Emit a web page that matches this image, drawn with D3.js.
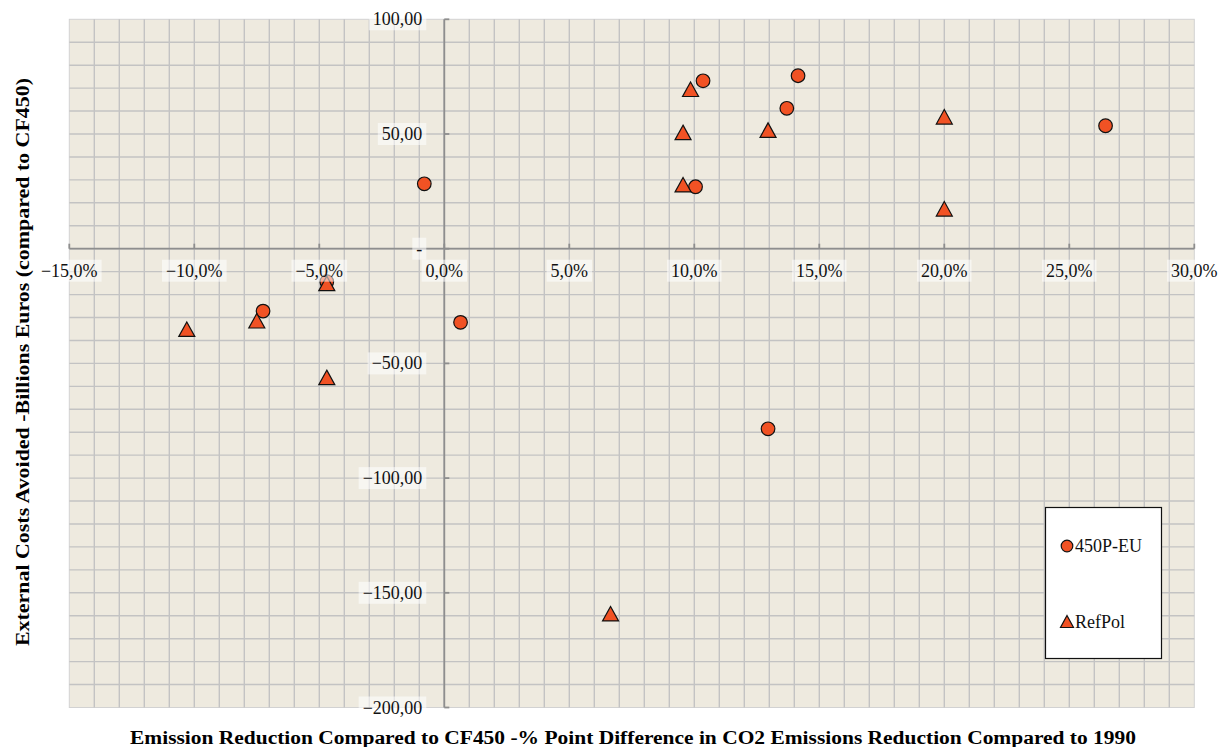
<!DOCTYPE html>
<html>
<head>
<meta charset="utf-8">
<script src="https://cdn.jsdelivr.net/npm/d3@7"></script>
<style>
  body { margin: 0; background: #fff; }
  text { font-family: "Liberation Serif", "Times New Roman", serif; }
</style>
</head>
<body>
<div id="chart"></div>
<script>
// emission reduction (% points) / external costs avoided (bn EUR)
var x450 = [-0.8, 0.65, -7.25, -4.7, 10.35, 14.15, 13.7, 10.05, 26.45, 12.95];
var y450 = [28.3, -32.1, -27.2, -14.4, 73.2, 75.4, 61.2, 27.0, 53.6, -78.5];
var xRef = [-10.3, -7.5, -4.7, -4.7, 9.85, 9.55, 12.95, 9.55, 20.0, 20.0, 6.65];
var yRef = [-35.1, -31.4, -15.1, -56.1, 69.5, 50.7, 51.7, 27.9, 57.5, 17.4, -159.1];

var xTicks = [-15, -10, -5, 0, 5, 10, 15, 20, 25, 30];
var yTicks = [100, 50, 0, -50, -100, -150, -200];
var seriesNames = ["450P-EU", "RefPol"];

var w = 1220, h = 747;
// note: "top" is taken by window.top, so plot edges get their own names
var pL = 69.3, pR = 1194.3, pT = 19.3, pB = 707.5;

var x = d3.scaleLinear().domain([-15, 30]).range([pL, pR]);
var y = d3.scaleLinear().domain([-200, 100]).range([pB, pT]);

var loc = d3.formatLocale({decimal: ",", thousands: ".", grouping: [3], currency: ["", " €"]});
var fmtX = function (d) { return loc.format(".1f")(d) + "%"; };
var fmtY = function (d) { return d === 0 ? "-" : loc.format(".2f")(d); };

var fill = "#F15224";

var svg = d3.select("#chart")
    .append("svg")
    .attr("width", w)
    .attr("height", h);

svg.append("rect")
    .attr("x", pL).attr("y", pT)
    .attr("width", pR - pL).attr("height", pB - pT)
    .attr("fill", "#EEEADF")
    .attr("stroke", "#D2D2D2");

// minor grid: 1% and 10 units
var grid = svg.append("g")
    .attr("stroke", "#C3C3C3")
    .attr("stroke-width", 1.4);

grid.selectAll("line.v")
    .data(d3.range(-14, 30, 1))
    .enter()
    .append("line")
    .attr("x1", function (d) { return x(d); })
    .attr("x2", function (d) { return x(d); })
    .attr("y1", pT).attr("y2", pB);

grid.selectAll("line.h")
    .data(d3.range(-190, 100, 10))
    .enter()
    .append("line")
    .attr("y1", function (d) { return y(d); })
    .attr("y2", function (d) { return y(d); })
    .attr("x1", pL).attr("x2", pR);

// axes through the origin
var axes = svg.append("g")
    .attr("stroke", "#8E8E8E")
    .attr("stroke-width", 1.8);

axes.append("line")
    .attr("x1", pL).attr("x2", pR)
    .attr("y1", y(0)).attr("y2", y(0));
axes.append("line")
    .attr("x1", x(0)).attr("x2", x(0))
    .attr("y1", pT).attr("y2", pB);

axes.selectAll("line.xt")
    .data(xTicks)
    .enter()
    .append("line")
    .attr("x1", function (d) { return x(d); })
    .attr("x2", function (d) { return x(d); })
    .attr("y1", y(0)).attr("y2", y(0) - 5);

axes.selectAll("line.yt")
    .data(yTicks)
    .enter()
    .append("line")
    .attr("y1", function (d) { return y(d); })
    .attr("y2", function (d) { return y(d); })
    .attr("x1", x(0)).attr("x2", x(0) + 5);

function triangle(cx, cy, tw, th) {
    return "M" + cx + "," + (cy - th / 2) +
        "L" + (cx + tw / 2) + "," + (cy + th / 2) +
        "L" + (cx - tw / 2) + "," + (cy + th / 2) + "Z";
}

// markers
svg.append("g")
    .selectAll("circle")
    .data(d3.zip(x450, y450))
    .enter()
    .append("circle")
    .attr("cx", function (d) { return x(d[0]); })
    .attr("cy", function (d) { return y(d[1]); })
    .attr("r", 6.8)
    .attr("fill", fill)
    .attr("stroke", "#111")
    .attr("stroke-width", 1.2);

svg.append("g")
    .selectAll("path")
    .data(d3.zip(xRef, yRef))
    .enter()
    .append("path")
    .attr("d", function (d) { return triangle(x(d[0]), y(d[1]), 16, 14.5); })
    .attr("fill", fill)
    .attr("stroke", "#111")
    .attr("stroke-width", 1.2)
    .attr("stroke-linejoin", "miter");

// tick labels with pale boxes
function boxedLabel(g, tx, ty, txt, anchor) {
    var bg = g.append("rect");
    var t = g.append("text")
        .attr("x", tx).attr("y", ty)
        .attr("text-anchor", anchor)
        .attr("font-size", 18)
        .attr("fill", "#111")
        .text(txt);
    var b = t.node().getBBox();
    bg.attr("x", b.x - 4).attr("y", b.y - 1)
        .attr("width", b.width + 8).attr("height", b.height + 2)
        .attr("fill", "#fff")
        .attr("fill-opacity", 0.55);
}

var labels = svg.append("g");
xTicks.forEach(function (d) {
    boxedLabel(labels.append("g"), x(d), y(0) + 28, fmtX(d), "middle");
});
yTicks.forEach(function (d) {
    boxedLabel(labels.append("g"), x(0) - 22, y(d) + 6, fmtY(d), "end");
});

// legend
var lg = svg.append("g");
lg.append("rect")
    .attr("x", 1045.5).attr("y", 507.5)
    .attr("width", 116).attr("height", 151)
    .attr("fill", "#fff")
    .attr("stroke", "#111")
    .attr("stroke-width", 1.2);
lg.append("circle")
    .attr("cx", 1067).attr("cy", 546)
    .attr("r", 5.8)
    .attr("fill", fill).attr("stroke", "#111").attr("stroke-width", 1.2);
lg.append("path")
    .attr("d", triangle(1067, 621.5, 13, 12))
    .attr("fill", fill).attr("stroke", "#111").attr("stroke-width", 1.2);
lg.selectAll("text")
    .data(seriesNames)
    .enter()
    .append("text")
    .attr("x", 1075)
    .attr("y", function (d, i) { return i === 0 ? 552 : 628; })
    .attr("font-size", 18)
    .attr("fill", "#111")
    .text(function (d) { return d; });

// axis titles
svg.append("text")
    .attr("x", 633).attr("y", 744)
    .attr("text-anchor", "middle")
    .attr("font-size", 18)
    .attr("font-weight", "bold")
    .attr("textLength", 1006)
    .attr("lengthAdjust", "spacingAndGlyphs")
    .text("Emission Reduction Compared to  CF450 -% Point Difference in CO2 Emissions Reduction Compared to 1990");

svg.append("text")
    .attr("transform", "translate(29,362) rotate(-90)")
    .attr("text-anchor", "middle")
    .attr("font-size", 18)
    .attr("font-weight", "bold")
    .attr("textLength", 568)
    .attr("lengthAdjust", "spacingAndGlyphs")
    .text("External Costs Avoided -Billions Euros (compared to CF450)");
</script>
</body>
</html>
